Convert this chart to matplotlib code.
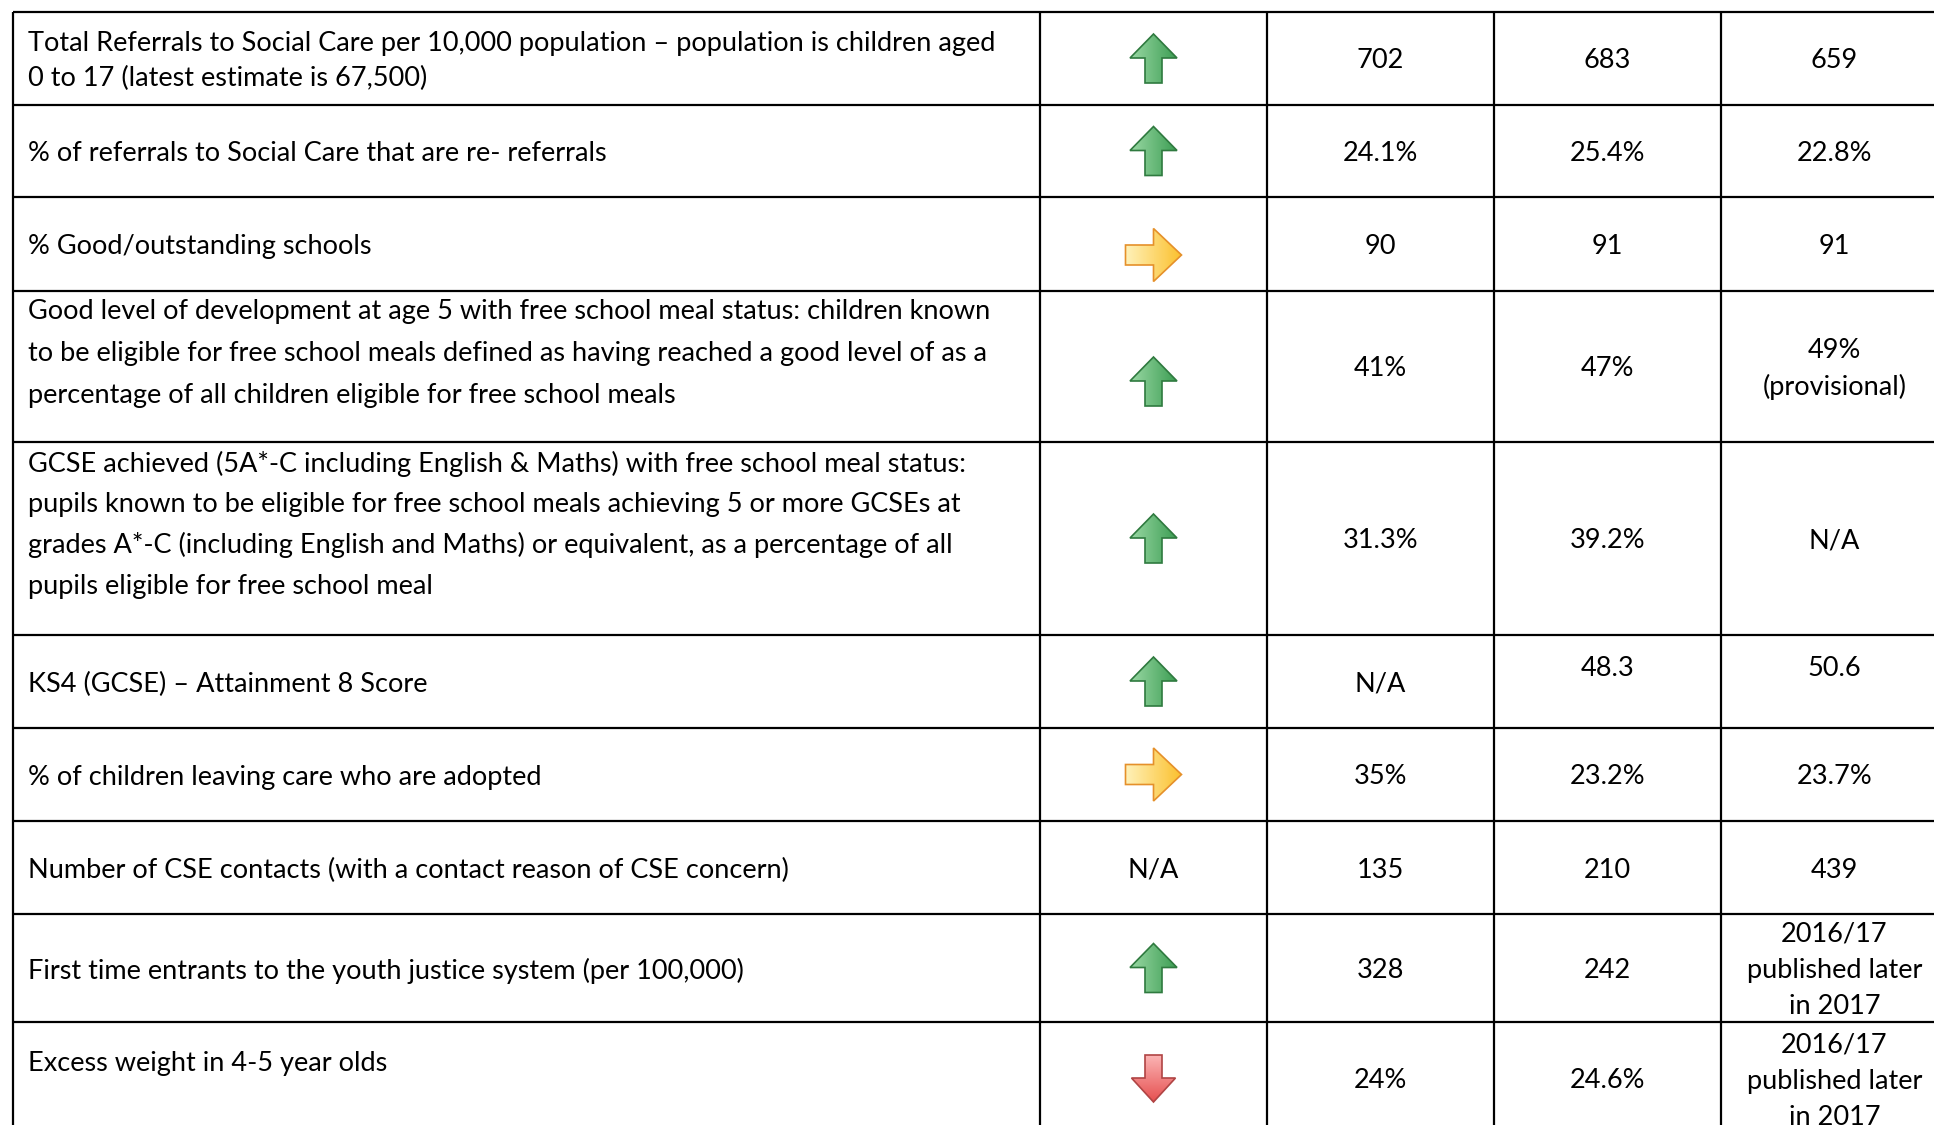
import matplotlib
matplotlib.use("Agg")
import matplotlib.pyplot as plt
import numpy as np
from matplotlib.patches import Polygon
from matplotlib.colors import LinearSegmentedColormap

# ---------------- data ----------------
indicators = [
    ["Total Referrals to Social Care per 10,000 population \u2013 population is children aged",
     "0 to 17 (latest estimate is 67,500)"],
    ["% of referrals to Social Care that are re- referrals"],
    ["% Good/outstanding schools"],
    ["Good level of development at age 5 with free school meal status: children known",
     "to be eligible for free school meals defined as having reached a good level of as a",
     "percentage of all children eligible for free school meals"],
    ["GCSE achieved (5A*-C including English & Maths) with free school meal status:",
     "pupils known to be eligible for free school meals achieving 5 or more GCSEs at",
     "grades A*-C (including English and Maths) or equivalent, as a percentage of all",
     "pupils eligible for free school meal"],
    ["KS4 (GCSE) \u2013 Attainment 8 Score"],
    ["% of children leaving care who are adopted"],
    ["Number of CSE contacts (with a contact reason of CSE concern)"],
    ["First time entrants to the youth justice system (per 100,000)"],
    ["Excess weight in 4-5 year olds"],
]
trend = ["up", "up", "right", "up", "up", "up", "right", "N/A", "up", "down"]
year1 = [["702"], ["24.1%"], ["90"], ["41%"], ["31.3%"], ["N/A"], ["35%"], ["135"], ["328"], ["24%"]]
year2 = [["683"], ["25.4%"], ["91"], ["47%"], ["39.2%"], ["48.3"], ["23.2%"], ["210"], ["242"], ["24.6%"]]
year3 = [["659"], ["22.8%"], ["91"], ["49%", "(provisional)"], ["N/A"], ["50.6"], ["23.7%"], ["439"],
         ["2016/17", "published later", "in 2017"], ["2016/17", "published later", "in 2017"]]

# ---------------- layout (pixels) ----------------
W, H = 1934, 1125
row_edges = [12, 105, 197, 291, 442, 635, 728, 821, 914, 1022, 1135]
col_edges = [13, 1040, 1267, 1494, 1721, 1948]
label_spacing = [34.5, 0, 0, 42, 40.7, 0, 0, 0, 0, 0]
label_dy = [0, 0, 0, -15, -16, 0, 0, 0, 0, -17]
icon_dy = [0, 0, 11, 15, 0, 0, 0, 0, 0, 0]
value_spacing = 36.3
value_dy = {(5, 1): -15, (5, 2): -15}

FONT = "Lato"
FS = 19.5

fig = plt.figure(figsize=(W / 100, H / 100), dpi=100)
ax = fig.add_axes([0, 0, 1, 1])
ax.set_xlim(0, W)
ax.set_ylim(H, 0)
ax.axis("off")

# grid lines
for y in row_edges:
    ax.plot([col_edges[0], col_edges[-1]], [y, y], color="black", lw=1.6, solid_capstyle="butt")
for x in col_edges:
    ax.plot([x, x], [row_edges[0], row_edges[-1]], color="black", lw=1.6, solid_capstyle="butt")


def draw_lines(lines, xc, yc, spacing, ha):
    n = len(lines)
    for i, s in enumerate(lines):
        y = yc + (i - (n - 1) / 2) * spacing
        ax.text(xc, y, s, ha=ha, va="center_baseline", fontsize=FS, family=FONT, color="black")


def arrow_poly(direction, cx, cy):
    if direction == "up":
        w, h, sw, hh = 47, 49, 17, 24
        pts = [(cx, cy - h / 2), (cx + w / 2, cy - h / 2 + hh), (cx + sw / 2, cy - h / 2 + hh),
               (cx + sw / 2, cy + h / 2), (cx - sw / 2, cy + h / 2), (cx - sw / 2, cy - h / 2 + hh),
               (cx - w / 2, cy - h / 2 + hh)]
        return pts, ("#9ad8a4", "#3d9e54"), "#2f7a3f", "x", (cx - w / 2, cx + w / 2, cy - h / 2, cy + h / 2)
    if direction == "down":
        w, h, sw, hh = 44, 47, 17, 24
        pts = [(cx, cy + h / 2), (cx + w / 2, cy + h / 2 - hh), (cx + sw / 2, cy + h / 2 - hh),
               (cx + sw / 2, cy - h / 2), (cx - sw / 2, cy - h / 2), (cx - sw / 2, cy + h / 2 - hh),
               (cx - w / 2, cy + h / 2 - hh)]
        return pts, ("#fbb4b4", "#e65050"), "#b04444", "y", (cx - w / 2, cx + w / 2, cy - h / 2, cy + h / 2)
    # right
    w, h, sh, hl = 56, 53, 20, 28
    pts = [(cx + w / 2, cy), (cx + w / 2 - hl, cy - h / 2), (cx + w / 2 - hl, cy - sh / 2),
           (cx - w / 2, cy - sh / 2), (cx - w / 2, cy + sh / 2), (cx + w / 2 - hl, cy + sh / 2),
           (cx + w / 2 - hl, cy + h / 2)]
    return pts, ("#fff1b8", "#fbc02d"), "#e5902a", "x", (cx - w / 2, cx + w / 2, cy - h / 2, cy + h / 2)


def draw_arrow(direction, cx, cy):
    pts, (c0, c1), edge, axis, (x0, x1, y0, y1) = arrow_poly(direction, cx, cy)
    cmap = LinearSegmentedColormap.from_list("g", [c0, c1])
    g = np.linspace(0, 1, 64)
    arr = g[None, :] if axis == "x" else g[:, None]
    poly = Polygon(pts, closed=True, facecolor="none", edgecolor=edge, lw=1.2, zorder=3)
    ax.add_patch(poly)
    im = ax.imshow(arr, cmap=cmap, extent=(x0, x1, y1, y0), origin="upper",
                   aspect="auto", interpolation="bilinear", zorder=2)
    im.set_clip_path(poly)


for r in range(len(indicators)):
    top, bot = row_edges[r], row_edges[r + 1]
    yc = (top + bot) / 2
    # label
    draw_lines(indicators[r], 28, yc + label_dy[r], label_spacing[r], "left")
    # trend icon
    tx = (col_edges[1] + col_edges[2]) / 2
    if trend[r] == "N/A":
        draw_lines(["N/A"], tx, yc, value_spacing, "center")
    else:
        draw_arrow(trend[r], tx, yc + icon_dy[r])
    # values
    for c, vals in enumerate([year1, year2, year3]):
        xc = (col_edges[2 + c] + col_edges[3 + c]) / 2
        draw_lines(vals[r], xc, yc + value_dy.get((r, c), 0), value_spacing, "center")

ax.set_xlim(0, W)
ax.set_ylim(H, 0)
fig.savefig("out.png", dpi=100, facecolor="white")
